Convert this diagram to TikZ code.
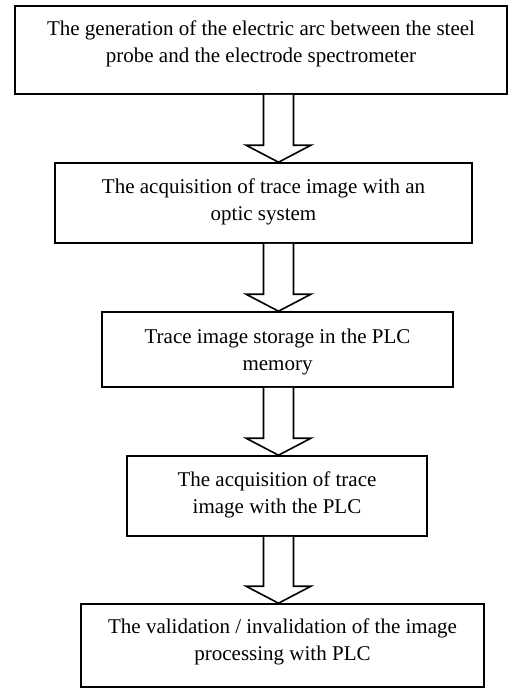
\documentclass[tikz,border=0pt]{standalone}
\usepackage{fontspec}
\setmainfont{Liberation Serif}

\begin{document}
\begin{tikzpicture}[x=1pt,y=-1pt]%
  \tikzstyle{boxn}=[rectangle,draw=black,line width=1.6pt,inner sep=0pt,align=center,
    font=\fontsize{21}{27}\selectfont,text depth=6pt]
  \tikzstyle{arrn}=[draw=black,line width=1.6pt,line join=miter,fill=white]
  \useasboundingbox (0,0) rectangle (508,690);
  \coordinate(ax) at (278.5,0);
  \node(gen)[boxn,minimum width=492pt,minimum height=88pt,text height=32pt] at (261,50)
    {The generation of the electric arc between the steel\\probe and the electrode spectrometer};
  \node(optic)[boxn,minimum width=417pt,minimum height=80pt,text height=40pt] at (263.5,203)
    {The acquisition of trace image with an\\optic system};
  \node(store)[boxn,minimum width=351pt,minimum height=75pt,text height=47pt] at (277.5,349.5)
    {Trace image storage in the PLC\\memory};
  \node(plc)[boxn,minimum width=300pt,minimum height=80pt,text height=41pt] at (277,496)
    {The acquisition of trace\\image with the PLC};
  \node(valid)[boxn,minimum width=403pt,minimum height=83pt,text height=35pt] at (282.5,645.5)
    {The validation / invalidation of the image\\processing with PLC};
  % hollow arrows between the steps
  \foreach \a/\b in {gen/optic,optic/store,store/plc,plc/valid}{
    \path (\a.south -| ax) coordinate(s) (\b.north -| ax) coordinate(t);
    \draw[arrn] ([xshift=-15pt]s) -- ([xshift=-15pt,yshift=17pt]t) -- ([xshift=-32.5pt,yshift=17pt]t)
      -- (t) -- ([xshift=32.5pt,yshift=17pt]t) -- ([xshift=15pt,yshift=17pt]t) -- ([xshift=15pt]s);
  }
\end{tikzpicture}
\end{document}
